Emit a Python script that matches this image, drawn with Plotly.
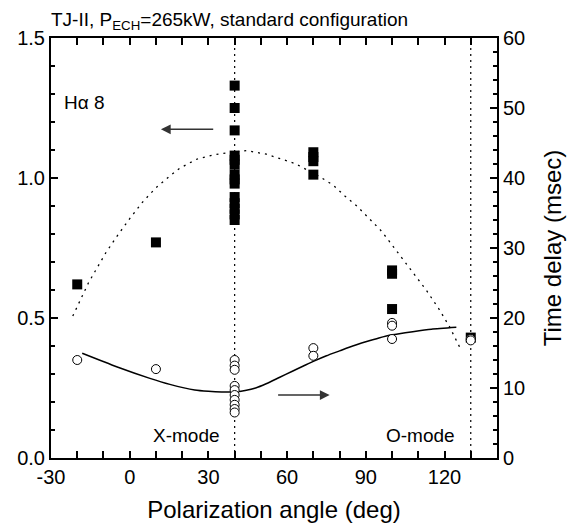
import plotly.graph_objects as go

# ---- data ----
# peak amplitude (left axis), filled squares
amp_angle = [-20, 10, 40, 40, 40, 40, 40, 40, 40, 40, 40, 40, 40, 40, 40, 40,
             70, 70, 70, 70, 100, 100, 100, 130]
amp_value = [0.62, 0.77, 1.33, 1.25, 1.17, 1.08, 1.065, 1.048, 1.0125, 0.995, 0.98,
             0.932, 0.91, 0.89, 0.87, 0.85, 1.092, 1.075, 1.06, 1.012,
             0.67, 0.658, 0.532, 0.43]

# time delay (right axis, msec), open circles
delay_angle = [-20, 10, 40, 40, 40, 40, 40, 40, 40, 40, 40, 40, 70, 70, 100, 100, 100, 130, 130]
delay_value = [14.0, 12.7, 14.0, 13.2, 12.6, 10.3, 9.7, 9.0, 8.3, 7.6, 7.0, 6.5,
               15.7, 14.6, 19.3, 18.9, 17.0, 17.0, 16.8]

# dotted fit curve (left axis)
fit_amp_x = [-21.7, -19.2, -15.8, -13.3, -9.1, -5, 0, 5, 10, 15, 19.1, 25.5, 31.8, 35.6,
             44.5, 52.1, 57.2, 62.9, 65.4, 72.4, 77.5, 82, 86.6, 91.1, 95.6, 97.8,
             102.9, 107.9, 113, 118.1, 121.9, 126.3]
fit_amp_y = [0.507, 0.558, 0.624, 0.665, 0.733, 0.79, 0.855, 0.915, 0.965, 1.005, 1.035,
             1.067, 1.082, 1.088, 1.098, 1.085, 1.070, 1.052, 1.040, 1.005, 0.975,
             0.936, 0.9, 0.856, 0.814, 0.788, 0.725, 0.66, 0.6, 0.529, 0.469, 0.386]

# solid fit curve (right axis)
fit_del_x = [-18.1, -5, 7.7, 15.3, 24.8, 30, 35, 40, 44, 48, 52, 57, 62, 66, 70, 75, 80,
             85, 90, 95, 100, 107.9, 115, 124.5]
fit_del_y = [14.96, 13.04, 11.38, 10.52, 9.71, 9.52, 9.43, 9.45, 9.65, 10.0, 10.6, 11.5,
             12.4, 13.1, 13.8, 14.6, 15.3, 16.0, 16.6, 17.15, 17.6, 18.05, 18.4, 18.67]

mode_lines = [40, 130]
x_ticks = [-30, 0, 30, 60, 90, 120]
x_tick_text = ["-30", "0", "30", "60", "90", "120"]
y_ticks = [0.0, 0.5, 1.0, 1.5]
y2_ticks = [0, 10, 20, 30, 40, 50, 60]

FONT = "Liberation Sans, Arial, sans-serif"

fig = go.Figure()

for xv in mode_lines:
    fig.add_trace(go.Scatter(x=[xv, xv], y=[0, 1.5], mode="lines",
                             line=dict(color="black", width=1.2, dash="2px,4px"),
                             showlegend=False, hoverinfo="skip"))

fig.add_trace(go.Scatter(x=fit_amp_x, y=fit_amp_y, mode="lines",
                         line=dict(color="black", width=1.3, dash="2px,5px"),
                         showlegend=False))
fig.add_trace(go.Scatter(x=fit_del_x, y=fit_del_y, mode="lines", yaxis="y2",
                         line=dict(color="black", width=1.5, shape="spline", smoothing=0.6),
                         showlegend=False))
fig.add_trace(go.Scatter(x=amp_angle, y=amp_value, mode="markers",
                         marker=dict(symbol="square", size=10, color="black",
                                     line=dict(width=0)),
                         showlegend=False))
fig.add_trace(go.Scatter(x=delay_angle, y=delay_value, mode="markers", yaxis="y2",
                         marker=dict(symbol="circle", size=9, color="white",
                                     line=dict(width=1, color="black")),
                         showlegend=False))

tick_minor = dict(ticks="inside", ticklen=4, tickcolor="black", tickwidth=1.5)
axis_common = dict(showline=True, linecolor="black", linewidth=2, ticks="inside",
                   tickcolor="black", tickwidth=1.5, ticklen=7, showgrid=False,
                   zeroline=False,
                   tickfont=dict(family=FONT, size=20, color="black"))

fig.update_layout(
    template="none",
    width=573, height=529,
    margin=dict(l=51, r=76, t=38, b=71),
    paper_bgcolor="white", plot_bgcolor="white",
    font=dict(family=FONT, color="black"),
    showlegend=False,
    xaxis=dict(range=[-30, 140], tickmode="array", tickvals=x_ticks, ticktext=x_tick_text,
               mirror="allticks",
               minor=dict(dtick=10, tick0=-30, **tick_minor),
               title=dict(text="Polarization angle (deg)",
                          font=dict(family=FONT, size=24), standoff=14),
               **axis_common),
    yaxis=dict(range=[0, 1.5], tickmode="array", tickvals=y_ticks, tickformat=".1f",
               minor=dict(dtick=0.1, tick0=0, **tick_minor),
               **axis_common),
    yaxis2=dict(range=[0, 60], tickmode="array", tickvals=y2_ticks, overlaying="y",
                side="right",
                minor=dict(dtick=2, tick0=0, **tick_minor),
                title=dict(text="Time delay (msec)",
                           font=dict(family=FONT, size=24), standoff=20),
                **axis_common),
    title=dict(text="TJ-II, P<sub>ECH</sub>=265kW, standard configuration",
               x=51 / 573, xanchor="left", y=1 - 19 / 529, yanchor="middle",
               font=dict(family=FONT, size=19, color="black")),
)

fig.add_annotation(x=11.9, y=1.174, ax=32.4, ay=1.174, xref="x", yref="y",
                   axref="x", ayref="y", showarrow=True, arrowhead=2, arrowsize=1.3,
                   arrowwidth=1.5, arrowcolor="#333", text="")
fig.add_annotation(x=76.2, y=9.0, ax=56, ay=9.0, xref="x", yref="y2",
                   axref="x", ayref="y2", showarrow=True, arrowhead=2, arrowsize=1.3,
                   arrowwidth=1.5, arrowcolor="#333", text="")

txt_font = dict(family=FONT, size=19, color="black")
fig.add_annotation(x=-25.8, y=1.268, xref="x", yref="y", text="Hα 8", showarrow=False,
                   xanchor="left", yanchor="middle", font=txt_font)
fig.add_annotation(x=21.8, y=0.079, xref="x", yref="y", text="X-mode", showarrow=False,
                   xanchor="center", yanchor="middle", font=txt_font)
fig.add_annotation(x=110.8, y=0.079, xref="x", yref="y", text="O-mode", showarrow=False,
                   xanchor="center", yanchor="middle", font=txt_font)

fig.write_html("out.html")
